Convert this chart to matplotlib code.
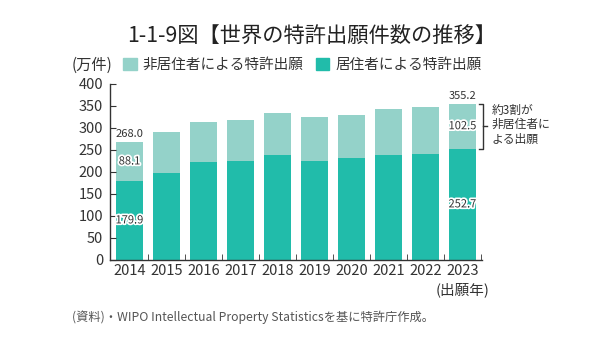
import matplotlib
matplotlib.use("Agg")
import matplotlib.pyplot as plt
import matplotlib.patheffects as pe
from matplotlib.patches import Patch
import numpy as np

plt.rcParams['font.family'] = ['Noto Sans CJK JP', 'DejaVu Sans']

years = ['2014', '2015', '2016', '2017', '2018', '2019', '2020', '2021', '2022', '2023']
resident = [179.9, 197, 223, 225, 239, 225, 232, 239, 241, 252.7]
total = [268.0, 291, 314, 318, 334, 325, 330, 343, 348, 355.2]
nonresident = [t - r for t, r in zip(total, resident)]

RES_COLOR = '#21bcaa'
NONRES_COLOR = '#94d2c9'
TEXT = '#333333'

fig = plt.figure(figsize=(5.99, 3.53), dpi=100)
ax = fig.add_axes([0.1836, 0.2635, 0.621, 0.4986])

x = np.arange(len(years))
ax.bar(x, resident, width=0.73, color=RES_COLOR)
ax.bar(x, nonresident, bottom=resident, width=0.73, color=NONRES_COLOR)

ax.set_xlim(-0.527, len(years) - 0.473)
ax.set_ylim(0, 400)
ax.set_yticks(range(0, 401, 50))
ax.set_xticks(x)
ax.set_xticklabels(years)
ax.set_xticks(np.arange(len(years)) + 0.5, minor=True)
ax.tick_params(axis='x', which='major', length=0, labelsize=10.5, labelcolor=TEXT, pad=3)
ax.tick_params(axis='x', which='minor', direction='in', length=4, color=TEXT)
ax.tick_params(axis='y', direction='in', length=4, labelsize=10.5, labelcolor=TEXT, color=TEXT, pad=5)
for s in ['top', 'right']:
    ax.spines[s].set_visible(False)
for s in ['left', 'bottom']:
    ax.spines[s].set_color(TEXT)
    ax.spines[s].set_linewidth(1.0)

outline = [pe.withStroke(linewidth=2.5, foreground='white')]
for i in [0, len(years) - 1]:
    ax.text(x[i], total[i] + 6, f'{total[i]:.1f}', ha='center', va='bottom',
            fontsize=8, color=TEXT)
    ax.text(x[i], resident[i] + nonresident[i] / 2, f'{nonresident[i]:.1f}',
            ha='center', va='center', fontsize=8, color=TEXT, path_effects=outline)
    ax.text(x[i], resident[i] / 2, f'{resident[i]:.1f}', ha='center', va='center',
            fontsize=8, color=TEXT, path_effects=outline)

# bracket on the last bar
i = len(years) - 1
x0, x1, x2 = x[i] + 0.45, x[i] + 0.55, x[i] + 0.66
ytop, ybot = total[i], resident[i]
ax.plot([x0, x1, x1, x0], [ytop, ytop, ybot, ybot], color=TEXT, lw=1, clip_on=False)
ax.plot([x1, x2], [(ytop + ybot) / 2] * 2, color=TEXT, lw=1, clip_on=False)
ax.text(x[i] + 0.78, ytop, '約3割が\n非居住者に\nよる出願', ha='left', va='top',
        fontsize=8.5, color=TEXT, linespacing=1.15)

fig.text(0.52, 0.895, '1-1-9図【世界の特許出願件数の推移】', ha='center', va='center',
         fontsize=15.3, color='#222222')
fig.text(0.120, 0.816, '(万件)', ha='left', va='center', fontsize=11, color=TEXT)
handles = [Patch(color=NONRES_COLOR), Patch(color=RES_COLOR)]
fig.legend(handles, ['非居住者による特許出願', '居住者による特許出願'], ncol=2,
           loc='center left', bbox_to_anchor=(0.206, 0.816), frameon=False,
           fontsize=10.5, handlelength=0.9, handleheight=0.9, handletextpad=0.4,
           columnspacing=0.9, borderaxespad=0, borderpad=0, labelcolor=TEXT)
fig.text(0.818, 0.18, '(出願年)', ha='right', va='center', fontsize=10.5, color=TEXT)
fig.text(0.120, 0.102, '(資料)・WIPO Intellectual Property Statisticsを基に特許庁作成。',
         ha='left', va='center', fontsize=8.8, color='#555555')

fig.savefig('out.png', dpi=100)
